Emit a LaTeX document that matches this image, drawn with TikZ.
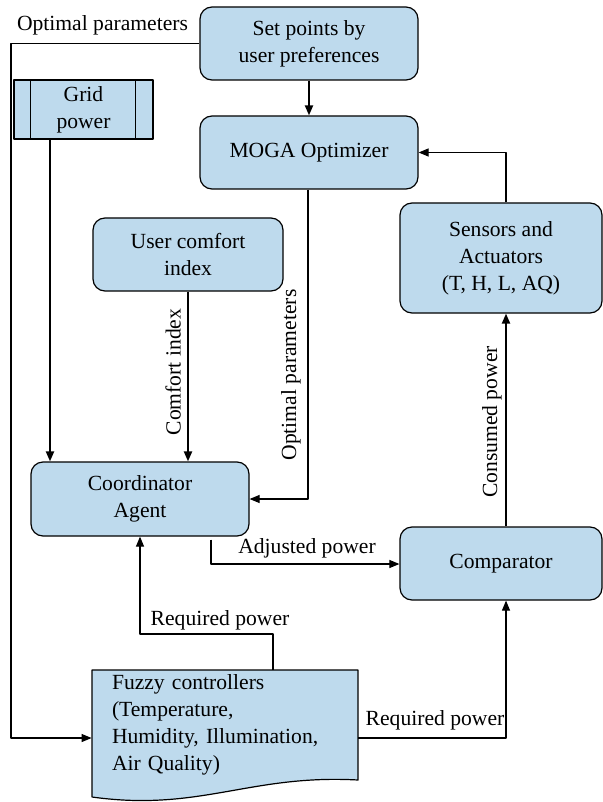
\documentclass[tikz,border=0pt]{standalone}
\usepackage{fontspec}
\setmainfont{Liberation Serif}
\usetikzlibrary{arrows.meta}
\definecolor{boxblue}{RGB}{190,218,237}
\begin{document}
\begin{tikzpicture}[x=0.5pt,y=-0.5pt,line join=round,
    font=\fontsize{10.8}{13.5}\selectfont,
    box/.style={draw,line width=0.6pt,fill=boxblue,rounded corners=6pt,align=center,inner sep=2pt},
    thinarr/.style={line width=0.55pt,-{Triangle[length=5pt,width=4pt]}},
    thickarr/.style={line width=1pt,-{Triangle[length=5pt,width=4pt]}},
    lbl/.style={inner sep=1pt}]
    \useasboundingbox (0,0) rectangle (602,802);

    % boxes
    \node (setp) [box,minimum width=109pt,minimum height=36.5pt] at (309,43.5) {Set points by\\ user preferences};
    \node (moga) [box,minimum width=109pt,minimum height=36.5pt] at (309,152.5) {MOGA Optimizer};
    \node (grid) [box,sharp corners,minimum width=69.5pt,minimum height=29.5pt] at (83.5,109.5) {Grid\\ power};
    \draw[line width=0.6pt] ([xshift=8.5pt]grid.north west) -- ([xshift=8.5pt]grid.south west);
    \draw[line width=0.6pt] ([xshift=-9pt]grid.north east) -- ([xshift=-9pt]grid.south east);
    \node (comf) [box,minimum width=95pt,minimum height=36.5pt] at (188,254.5) {User comfort\\ index};
    \node (sens) [box,minimum width=101pt,minimum height=55pt] at (501,258) {Sensors and\\ Actuators\\ (T, H, L, AQ)};
    \node (coord) [box,minimum width=109pt,minimum height=37pt] at (140,499) {Coordinator\\ Agent};
    \node (comp) [box,minimum width=101pt,minimum height=36.5pt] at (501,563.5) {Comparator};

    % document shape
    \filldraw[line width=0.6pt,fill=boxblue] (92,670) -- (358,670) -- (358,780)
      .. controls (250,774) and (200,812) .. (92,797) -- cycle;
    \node (fuzzy) [inner xsep=10pt,inner ysep=0pt,text width=113pt,align=left,minimum height=55pt] at (225,725)
      {Fuzzy controllers\\ (Temperature,\\ Humidity, Illumination,\\ Air Quality)};

    % helper points
    \coordinate (lx) at (11,738);
    \coordinate (gx) at (50,0);
    \coordinate (ox) at (308,0);
    \coordinate (ax) at (211,564);
    \coordinate (rq) at (273,634);
    \coordinate (rx) at (506,738);

    % connectors
    \draw[thickarr] (setp) -- (moga);
    \draw[thinarr] (setp.west) -| (lx) -- (lx -| fuzzy.west);
    \draw[thickarr] (grid.south -| gx) -- (coord.north -| gx);
    \draw[thickarr] (comf) -- (comf |- coord.north);
    \draw[thinarr] (moga.south -| ox) |- (coord.east);
    \draw[thinarr] ([yshift=-1.5pt]coord.south -| ax) -- (ax) -- (ax -| comp.west);
    \draw[thinarr] (fuzzy.north -| rq) -- (rq) -| (coord.south);
    \draw[thinarr] (fuzzy.east |- rx) -- (rx) -- (rx |- comp.south);
    \draw[thickarr] (comp.north -| rx) -- (sens.south -| rx);
    \draw[thinarr] (sens.north -| rx) |- (moga.east);

    % labels
    \node (lopt) [lbl] at (102.5,25) {Optimal parameters};
    \node (lcomf) [lbl,rotate=90] at (173,372) {Comfort index};
    \node (lopt2) [lbl,rotate=90] at (291,375) {Optimal parameters};
    \node (lcons) [lbl,rotate=90] at (492,422) {Consumed power};
    \node (ladj) [lbl] at (307,548) {Adjusted power};
    \node (lreq) [lbl] at (220,620) {Required power};
    \node (lreq2) [lbl] at (435,720) {Required power};
\end{tikzpicture}
\end{document}
